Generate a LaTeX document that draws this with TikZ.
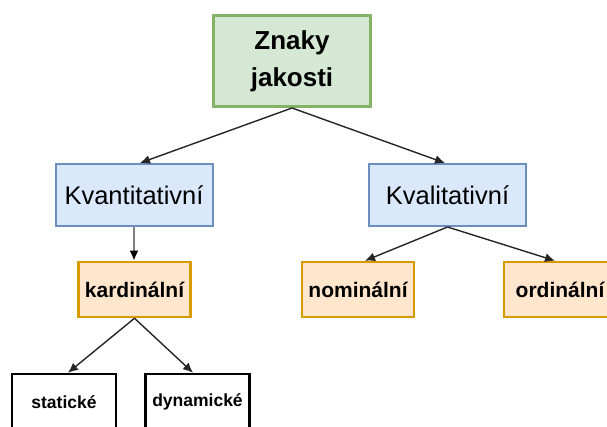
\documentclass[tikz,border=0pt]{standalone}
\usepackage{fontspec}
\setmainfont{Liberation Sans}
\usetikzlibrary{arrows.meta}
\definecolor{gfill}{HTML}{D5E8D4}
\definecolor{gline}{HTML}{82B366}
\definecolor{bfill}{HTML}{DAE8FC}
\definecolor{bline}{HTML}{6C8EBF}
\definecolor{ofill}{HTML}{FFE6CC}
\definecolor{oline}{HTML}{D79B00}
\definecolor{arrcol}{HTML}{262626}
\tikzset{
  box/.style={draw, rectangle, inner sep=0pt, align=center},
  topbox/.style={box, fill=gfill, draw=gline, line width=3pt, minimum width=157pt, minimum height=91pt, font=\fontsize{26}{37}\selectfont\bfseries},
  bluebox/.style={box, fill=bfill, draw=bline, line width=2pt, minimum width=157pt, minimum height=62pt, font=\fontsize{25.5}{28}\selectfont},
  orangebox/.style={box, fill=ofill, draw=oline, line width=2.5pt, minimum width=112pt, minimum height=55pt, font=\fontsize{21}{24}\selectfont\bfseries},
  plainbox/.style={box, fill=white, draw=black, line width=2.5pt, minimum width=104pt, minimum height=56pt, font=\fontsize{17.5}{20}\selectfont\bfseries},
  arr/.style={draw=arrcol, line width=1.4pt, -{Latex[length=10pt,width=9pt]}},
  grayarr/.style={draw=gray, line width=2pt, -{Latex[length=10pt,width=9pt,color=black]}}
}
\begin{document}
\begin{tikzpicture}[x=1pt,y=-1pt]
\clip (0,0) rectangle (607,427);
\fill[white] (0,0) rectangle (607,427);
\node[topbox] (zn) at (292,61) {Znaky\\jakosti};
\node[bluebox] (kvn) at (134,195) {Kvantitativní};
\node[bluebox] (kvl) at (447.5,195) {Kvalitativní};
\node[orangebox] (kard) at (134.5,289.5) {kardinální};
\node[orangebox] (nom) at (358,289.5) {nominální};
\node[orangebox] (ord) at (560,289.5) {ordinální};
\node[plainbox] (stat) at (64,402) {statické};
\node[plainbox] (dyn) at (197.5,402) {dynamické};
\draw[arr] (zn.south) -- ([xshift=6pt]kvn.north);
\draw[arr] (zn.south) -- ([xshift=-2.5pt]kvl.north);
\draw[grayarr] (kvn.south) -- (kvn.south |- kard.north);
\draw[arr] (kvl.south) -- ([xshift=7pt]nom.north);
\draw[arr] (kvl.south) -- ([xshift=-5pt]ord.north);
\draw[arr] (kard.south) -- ([xshift=4pt]stat.north);
\draw[arr] (kard.south) -- ([xshift=-4.5pt]dyn.north);
\end{tikzpicture}
\end{document}
